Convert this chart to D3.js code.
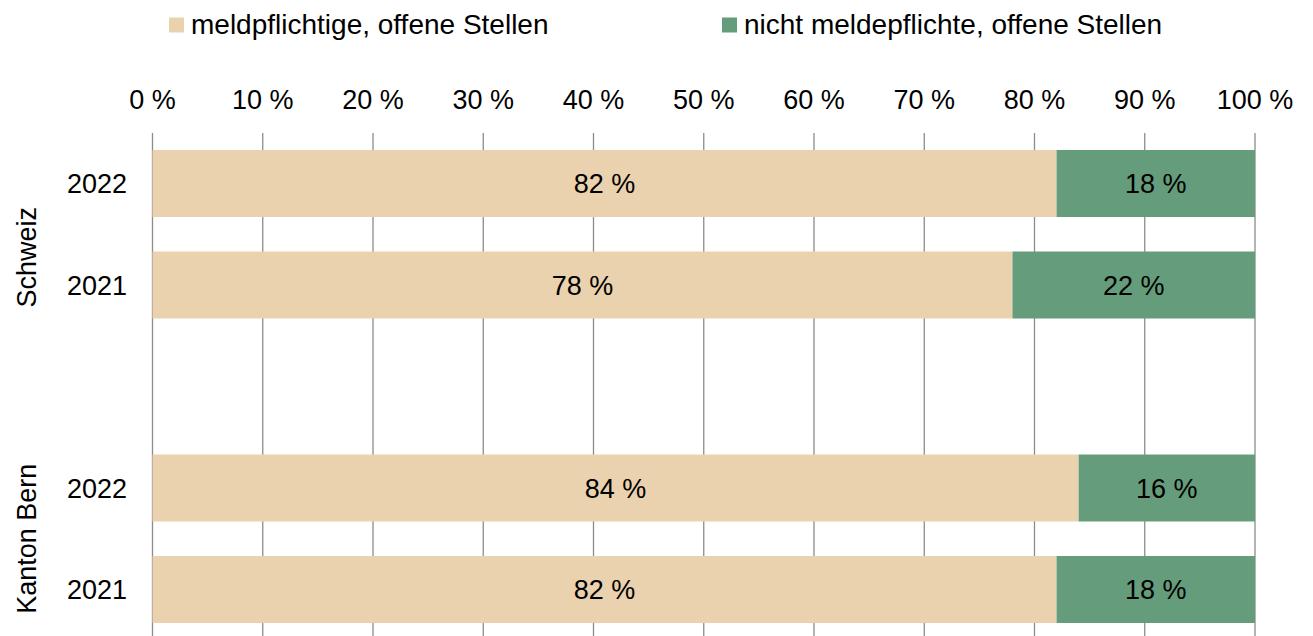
<!DOCTYPE html>
<html>
<head>
<meta charset="utf-8">
<script src="https://cdn.jsdelivr.net/npm/d3@7"></script>
<style>
  html, body { margin: 0; padding: 0; background: #fff; }
  svg { display: block; font-family: "Liberation Sans", Arial, sans-serif; }
</style>
</head>
<body>
<script>
// data
const rowKeys = ["S2022", "S2021", "gap", "B2022", "B2021"];
const years = ["2022", "2021", "", "2022", "2021"];
const meldpflichtig = [82, 78, null, 84, 82];
const nichtMeldpflichtig = [18, 22, null, 16, 18];
const seriesNames = ["meldpflichtige, offene Stellen", "nicht meldepflichte, offene Stellen"];
const seriesColors = ["#EAD2AE", "#659C7B"];
const groups = ["Schweiz", "Kanton Bern"];
const groupRows = [["S2022", "S2021"], ["B2022", "B2021"]];
const ticks = [0, 10, 20, 30, 40, 50, 60, 70, 80, 90, 100];

const W = 1313, H = 636;
const FS = 27;
const svg = d3.select("body").append("svg").attr("width", W).attr("height", H);

const x = d3.scaleLinear().domain([0, 100]).range([152.5, 1255]);
const y = d3.scaleBand().domain(rowKeys).range([132.75, 640.25])
  .paddingInner(0.34).paddingOuter(0.17);

// gridlines
svg.append("g").selectAll("line").data(ticks).join("line")
  .attr("x1", d => x(d)).attr("x2", d => x(d))
  .attr("y1", 133).attr("y2", H)
  .attr("stroke", "#8c8c8c").attr("stroke-width", 1.3);

// tick labels
svg.append("g").selectAll("text").data(ticks).join("text")
  .attr("x", d => x(d)).attr("y", 108.5)
  .attr("text-anchor", "middle").attr("font-size", FS).attr("fill", "#000")
  .text(d => d + " %");

// stacked bars
const rows = rowKeys.map((k, i) => ({ key: k, a: meldpflichtig[i], b: nichtMeldpflichtig[i] }))
  .filter(r => r.a != null);

const bars = svg.append("g");
rows.forEach(r => {
  const segs = [
    { x0: 0, x1: r.a, v: r.a, c: seriesColors[0] },
    { x0: r.a, x1: r.a + r.b, v: r.b, c: seriesColors[1] }
  ];
  segs.forEach(s => {
    bars.append("rect")
      .attr("x", x(s.x0)).attr("width", x(s.x1) - x(s.x0))
      .attr("y", y(r.key)).attr("height", y.bandwidth())
      .attr("fill", s.c);
    bars.append("text")
      .attr("x", (x(s.x0) + x(s.x1)) / 2)
      .attr("y", y(r.key) + y.bandwidth() / 2 + 9.5)
      .attr("text-anchor", "middle").attr("font-size", FS).attr("fill", "#000")
      .text(s.v + " %");
  });
});

// year labels
svg.append("g").selectAll("text").data(rowKeys.map((k, i) => ({ k, t: years[i] })).filter(d => d.t))
  .join("text")
  .attr("x", 127).attr("y", d => y(d.k) + y.bandwidth() / 2 + 9.5)
  .attr("text-anchor", "end").attr("font-size", FS).attr("fill", "#000")
  .text(d => d.t);

// group labels (rotated)
const groupShift = [23, 0];
groups.forEach((g, i) => {
  const r = groupRows[i];
  const cy = (y(r[0]) + y(r[r.length - 1]) + y.bandwidth()) / 2 + groupShift[i];
  svg.append("text")
    .attr("transform", `translate(36,${cy}) rotate(-90)`)
    .attr("text-anchor", "middle").attr("font-size", FS).attr("fill", "#000")
    .text(g);
});

// legend
const legendX = [169, 722];
seriesNames.forEach((n, i) => {
  svg.append("rect").attr("x", legendX[i]).attr("y", 17.5).attr("width", 15).attr("height", 15)
    .attr("fill", seriesColors[i]);
  svg.append("text").attr("x", legendX[i] + 22).attr("y", 33.5)
    .attr("font-size", 28).attr("fill", "#000").text(n);
});
</script>
</body>
</html>
